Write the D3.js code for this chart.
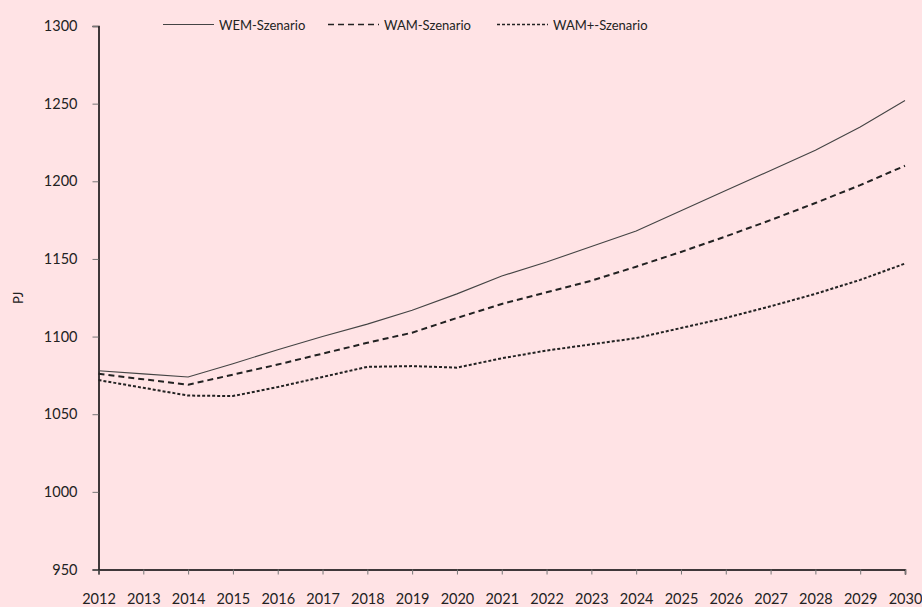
<!DOCTYPE html>
<html><head><meta charset="utf-8">
<script src="https://cdn.jsdelivr.net/npm/d3@7"></script>
<style>
html,body{margin:0;padding:0;background:#ffe3e5;}
text{font-family:"Century Gothic","URW Gothic",Lato,sans-serif;fill:#222;}
</style></head><body>
<svg id="c" width="922" height="607"></svg>
<script>
const years = [2012,2013,2014,2015,2016,2017,2018,2019,2020,2021,2022,2023,2024,2025,2026,2027,2028,2029,2030];
const wem     = [1078,1076,1074,1082.5,1091.5,1100,1108,1117,1127.5,1139,1148,1158,1168,1181,1194,1207,1220,1235,1252];
const wam     = [1076,1072.5,1069,1075.5,1082,1089,1096,1102.5,1112,1121,1128.5,1136,1145,1154.5,1164.5,1175,1186,1197.5,1210];
const wamPlus = [1072,1067,1062,1061.7,1067.5,1074,1080.5,1081,1080,1086,1091,1095,1099,1105.5,1112,1119.5,1127.5,1136.5,1147];
const yTicks = [950,1000,1050,1100,1150,1200,1250,1300];
const seriesNames = ["WEM-Szenario","WAM-Szenario","WAM+-Szenario"];

const svg = d3.select("#c");
const x = d3.scaleLinear().domain([2012,2030]).range([98.5,905]);
const y = d3.scaleLinear().domain([950,1300]).range([569.5,26]);

const styles = [
  {stroke:"#444", width:1.1, dash:null},
  {stroke:"#222", width:2, dash:"6,4"},
  {stroke:"#222", width:2, dash:"3,2"}
];

// y axis
const ya = svg.append("g").attr("transform","translate(98.5,0)")
  .call(d3.axisLeft(y).tickValues(yTicks).tickSize(6).tickPadding(15).tickFormat(d3.format("d")));
ya.select(".domain").attr("stroke","#000").attr("stroke-width",1.5);
ya.selectAll(".tick line").attr("stroke","#777");
ya.selectAll("text").attr("font-size",14.5).attr("fill","#222");

// x axis
const xa = svg.append("g").attr("transform","translate(0,569.5)")
  .call(d3.axisBottom(x).tickValues(years).tickSize(5).tickPadding(19).tickFormat(d3.format("d")));
xa.select(".domain").attr("stroke","#000").attr("stroke-width",1.5);
xa.selectAll(".tick line").attr("stroke","#777");
xa.selectAll("text").attr("font-size",14.5).attr("fill","#222");

svg.append("text").attr("transform","translate(23,298) rotate(-90)")
  .attr("text-anchor","middle").attr("font-size",13).text("PJ");

const line = d3.line().x((d,i)=>x(years[i])).y(d=>y(d));
[wem,wam,wamPlus].forEach((s,k)=>{
  svg.append("path").datum(s).attr("d",line).attr("fill","none")
    .attr("stroke",styles[k].stroke).attr("stroke-width",styles[k].width)
    .attr("stroke-dasharray",styles[k].dash);
});

// legend
const legX = [163,328,497];
seriesNames.forEach((n,k)=>{
  svg.append("line").attr("x1",legX[k]).attr("x2",legX[k]+51).attr("y1",24.5).attr("y2",24.5)
    .attr("stroke",styles[k].stroke).attr("stroke-width",k===0?1.1:1.5)
    .attr("stroke-dasharray",styles[k].dash);
  svg.append("text").attr("x",legX[k]+56).attr("y",29.5).attr("font-size",13).text(n);
});
</script></body></html>
